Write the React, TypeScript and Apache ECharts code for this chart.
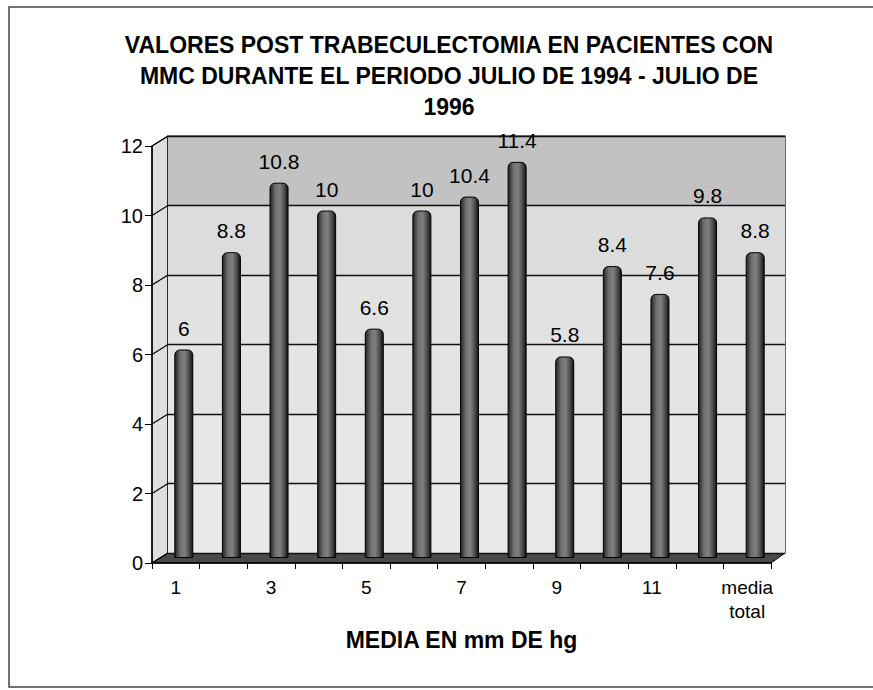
import React, { useEffect, useRef } from "react";
import * as echarts from "echarts";

const categories = ["1", "2", "3", "4", "5", "6", "7", "8", "9", "10", "11", "12", "media\ntotal"];
const values = [6, 8.8, 10.8, 10, 6.6, 10, 10.4, 11.4, 5.8, 8.4, 7.6, 9.8, 8.8];
const yTicks = [0, 2, 4, 6, 8, 10, 12];
const titleText = "VALORES POST TRABECULECTOMIA EN PACIENTES CON\nMMC DURANTE EL PERIODO JULIO DE 1994 - JULIO DE\n1996";
const xTitle = "MEDIA EN mm DE hg";

const W = 873;
const H = 690;
// front plane, back wall, bar plane (layout only)
const front = { l: 152, r: 771, t: 146, b: 563 };
const back = { l: 168, r: 785, t: 136, b: 553 };
const mid = { l: 160, r: 779, t: 141, b: 558 };

export default function App() {
  const ref = useRef<HTMLDivElement>(null);
  useEffect(() => {
    if (!ref.current) return;
    const chart = echarts.init(ref.current, null, { renderer: "svg" });
    const font = "'Liberation Sans', Arial, sans-serif";
    const gridOf = (p: any) => ({ left: p.l, right: W - p.r, top: p.t, bottom: H - p.b });
    const hiddenCat = (gi: number) => ({ type: "category", gridIndex: gi, data: categories, show: false });
    const hiddenVal = (gi: number) => ({
      type: "value", gridIndex: gi, min: 0, max: 12, interval: 2,
      axisLine: { show: false }, axisTick: { show: false }, axisLabel: { show: false }, splitLine: { show: false },
    });
    const yMax = 12;
    const yPix = (p: any, v: number) => p.b - ((p.b - p.t) * v) / yMax;

    const decor: any[] = [
      {
        type: "polygon",
        shape: { points: [[front.l, front.t], [back.l, back.t], [back.l, back.b], [front.l, front.b]] },
        style: { fill: "#dedede", stroke: "#000", lineWidth: 1 },
        silent: true, z: -1,
      },
      {
        type: "polygon",
        shape: { points: [[front.l, front.b], [back.l, back.b], [back.r, back.b], [front.r, front.b]] },
        style: { fill: "#4a4a4a", stroke: "#000", lineWidth: 1 },
        silent: true, z: -1,
      },
      ...yTicks.map((v) => ({
        type: "line",
        shape: { x1: front.l, y1: yPix(front, v), x2: back.l, y2: yPix(back, v) },
        style: { stroke: "#000", lineWidth: 1.2 },
        silent: true,
      })),
      {
        type: "rect",
        shape: { x: 9, y: 7, width: 900, height: 680 },
        style: { fill: "none", stroke: "#444", lineWidth: 1.5 },
        silent: true,
      },
    ];

    chart.setOption({
      animation: false,
      backgroundColor: "#ffffff",
      title: {
        text: titleText,
        left: 444,
        textAlign: "center",
        top: 24,
        textStyle: { fontFamily: font, fontSize: 23, fontWeight: "bold", color: "#000", lineHeight: 31 },
      },
      grid: [
        gridOf(front),
        { ...gridOf(back), show: true, backgroundColor: "transparent", borderColor: "#000", borderWidth: 1.2 },
        gridOf(mid),
      ],
      xAxis: [
        {
          type: "category",
          gridIndex: 0,
          data: categories,
          name: xTitle,
          nameLocation: "middle",
          nameGap: 65,
          nameTextStyle: { fontFamily: font, fontSize: 23, fontWeight: "bold", color: "#000" },
          axisLine: { lineStyle: { color: "#000", width: 1.5 } },
          axisTick: { show: true, interval: 0, length: 6, lineStyle: { color: "#000" } },
          axisLabel: { interval: 1, fontFamily: font, fontSize: 19, color: "#000", margin: 12, lineHeight: 24 },
          splitLine: { show: false },
        },
        hiddenCat(1),
        hiddenCat(2),
      ],
      yAxis: [
        {
          type: "value",
          gridIndex: 0,
          min: 0,
          max: 12,
          interval: 2,
          axisLine: { show: true, lineStyle: { color: "#000", width: 1.5 } },
          axisTick: { show: true, length: 7, lineStyle: { color: "#000" } },
          axisLabel: { fontFamily: font, fontSize: 20, color: "#000", margin: 9 },
          splitLine: { show: false },
          splitArea: { show: false },
        },
        {
          ...hiddenVal(1),
          splitLine: { show: true, lineStyle: { color: "#111", width: 1.3 } },
          splitArea: {
            show: true,
            areaStyle: { color: ["#e9e9e9", "#e7e7e7", "#e4e4e4", "#e2e2e2", "#dcdcdc", "#c2c2c2"] },
          },
        },
        hiddenVal(2),
      ],
      series: [
        {
          type: "bar",
          xAxisIndex: 2,
          yAxisIndex: 2,
          data: values,
          barWidth: 19,
          z: 3,
          itemStyle: {
            color: new echarts.graphic.LinearGradient(0, 0, 1, 0, [
              { offset: 0, color: "#222222" },
              { offset: 0.3, color: "#707070" },
              { offset: 0.55, color: "#808080" },
              { offset: 0.8, color: "#4a4a4a" },
              { offset: 1, color: "#111111" },
            ]),
            borderColor: "#000",
            borderWidth: 1,
            borderRadius: [5, 5, 0, 0],
          },
          label: {
            show: true,
            position: "top",
            distance: 11,
            fontFamily: font,
            fontSize: 21,
            color: "#000",
          },
        },
      ],
      graphic: decor,
    });
    return () => chart.dispose();
  }, []);
  return <div ref={ref} style={{ width: W, height: H, position: "absolute", left: 0, top: 0 }} />;
}
